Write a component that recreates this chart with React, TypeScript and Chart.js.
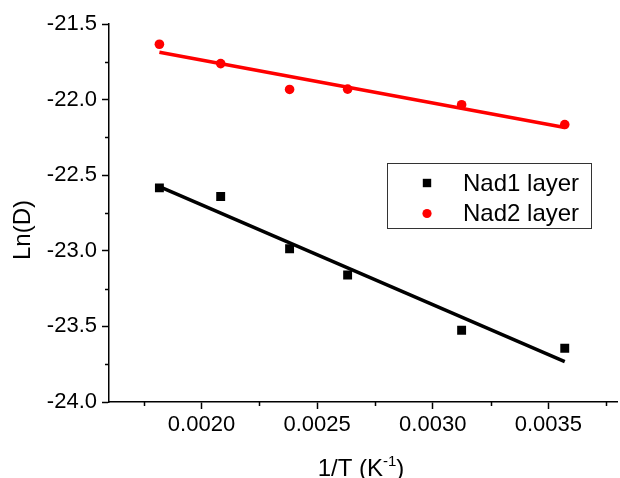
import React, { useEffect, useRef } from "react";
import { Chart, registerables } from "chart.js";

Chart.register(...registerables);

// Data
const invT = [0.001818, 0.002083, 0.002381, 0.002632, 0.003125, 0.003571];
const nad1 = [-22.584, -22.641, -22.986, -23.16, -23.525, -23.645];
const nad2 = [-21.634, -21.762, -21.933, -21.931, -22.034, -22.165];
const fitX = [0.001818, 0.003571];
const nad1Fit = [-22.576, -23.733];
const nad2Fit = [-21.687, -22.185];
const xTicks = [0.002, 0.0025, 0.003, 0.0035];
const xMinor = [0.00175, 0.00225, 0.00275, 0.00325, 0.00375];
const yTicks = [-21.5, -22.0, -22.5, -23.0, -23.5, -24.0];
const yMinor = [-21.75, -22.25, -22.75, -23.25, -23.75];
const seriesNames = ["Nad1 layer", "Nad2 layer"];
const xTitleMain = "1/T (K";
const xTitleSup = "-1";
const xTitleEnd = ")";
const yTitle = "Ln(D)";

const FONT = '"Liberation Sans", Arial, sans-serif';

const decorPlugin = {
  id: "decor",
  afterDraw(chart: any) {
    const { ctx, chartArea, scales } = chart;
    const xs = scales.x;
    const ys = scales.y;
    ctx.save();
    // minor ticks
    ctx.strokeStyle = "#000";
    ctx.lineWidth = 1.5;
    ctx.beginPath();
    xMinor.forEach((v) => {
      const px = Math.round(xs.getPixelForValue(v)) + 0.5;
      ctx.moveTo(px, chartArea.bottom);
      ctx.lineTo(px, chartArea.bottom + 4);
    });
    yMinor.forEach((v) => {
      const py = Math.round(ys.getPixelForValue(v)) + 0.5;
      ctx.moveTo(chartArea.left - 4, py);
      ctx.lineTo(chartArea.left, py);
    });
    ctx.stroke();

    // axis titles
    ctx.fillStyle = "#000";
    ctx.font = `24px ${FONT}`;
    ctx.textBaseline = "alphabetic";
    ctx.textAlign = "left";
    const supFont = `15px ${FONT}`;
    const w1 = ctx.measureText(xTitleMain).width;
    const w3 = ctx.measureText(xTitleEnd).width;
    ctx.font = supFont;
    const w2 = ctx.measureText(xTitleSup).width;
    const total = w1 + w2 + w3;
    const cx = 361;
    const x0 = cx - total / 2;
    const base = chartArea.bottom + 74;
    ctx.font = `24px ${FONT}`;
    ctx.fillText(xTitleMain, x0, base);
    ctx.font = supFont;
    ctx.fillText(xTitleSup, x0 + w1, base - 10);
    ctx.font = `24px ${FONT}`;
    ctx.fillText(xTitleEnd, x0 + w1 + w2, base);

    ctx.save();
    ctx.translate(23, (chartArea.top + chartArea.bottom) / 2 + 17);
    ctx.rotate(-Math.PI / 2);
    ctx.textAlign = "center";
    ctx.textBaseline = "middle";
    ctx.fillText(yTitle, 0, 0);
    ctx.restore();

    // legend box
    const bx = 387.5, by = 163.5, bw = 204, bh = 65;
    ctx.fillStyle = "#fff";
    ctx.fillRect(bx, by, bw, bh);
    ctx.strokeStyle = "#333";
    ctx.lineWidth = 1;
    ctx.strokeRect(bx, by, bw, bh);
    // entries
    ctx.fillStyle = "#000";
    ctx.fillRect(427 - 4.2, 183 - 4.2, 8.4, 8.4);
    ctx.fillStyle = "#ff0000";
    ctx.beginPath();
    ctx.arc(427, 213.5, 4.6, 0, Math.PI * 2);
    ctx.fill();
    ctx.fillStyle = "#000";
    ctx.font = `24px ${FONT}`;
    ctx.textAlign = "left";
    ctx.textBaseline = "alphabetic";
    ctx.fillText(seriesNames[0], 463, 191);
    ctx.fillText(seriesNames[1], 463, 221);
    ctx.restore();
  },
};

export default function App() {
  const ref = useRef<HTMLCanvasElement | null>(null);
  useEffect(() => {
    if (!ref.current) return;
    const toPts = (xs: number[], ys: number[]) => xs.map((x, i) => ({ x, y: ys[i] }));
    const chart = new Chart(ref.current, {
      type: "scatter",
      data: {
        datasets: [
          {
            label: seriesNames[0],
            data: toPts(invT, nad1),
            pointStyle: "rect",
            pointRadius: 6.3,
            backgroundColor: "#000",
            borderColor: "#000",
            borderWidth: 0,
          },
          {
            label: seriesNames[1],
            data: toPts(invT, nad2),
            pointStyle: "circle",
            pointRadius: 4.8,
            backgroundColor: "#ff0000",
            borderColor: "#ff0000",
            borderWidth: 0,
          },
          {
            label: "fit1",
            data: toPts(fitX, nad1Fit),
            showLine: true,
            pointRadius: 0,
            borderColor: "#000",
            borderWidth: 3.5,
          },
          {
            label: "fit2",
            data: toPts(fitX, nad2Fit),
            showLine: true,
            pointRadius: 0,
            borderColor: "#ff0000",
            borderWidth: 3.5,
          },
        ],
      },
      options: {
        responsive: false,
        animation: false,
        layout: { padding: { left: 0, top: 24, right: 2.5, bottom: 0 } },
        plugins: {
          legend: { display: false },
          tooltip: { enabled: false },
        },
        scales: {
          x: {
            type: "linear",
            min: 0.0016,
            max: 0.0038,
            afterBuildTicks: (s: any) => {
              s.ticks = xTicks.map((v) => ({ value: v }));
            },
            afterFit: (s: any) => {
              s.height = 76;
            },
            grid: {
              drawOnChartArea: false,
              drawTicks: true,
              tickLength: 7,
              tickWidth: 1.5,
              tickColor: "#000",
            },
            border: { display: true, color: "#000", width: 1.5 },
            ticks: {
              color: "#000",
              font: { family: FONT, size: 22 },
              padding: 3,
              maxRotation: 0,
              autoSkip: false,
              callback: (v: any) => Number(v).toFixed(4),
            },
          },
          y: {
            type: "linear",
            min: -24,
            max: -21.5,
            afterBuildTicks: (s: any) => {
              s.ticks = yTicks.map((v) => ({ value: v }));
            },
            afterFit: (s: any) => {
              s.width = 109;
            },
            grid: {
              drawOnChartArea: false,
              drawTicks: true,
              tickLength: 7,
              tickWidth: 1.5,
              tickColor: "#000",
            },
            border: { display: true, color: "#000", width: 1.5 },
            ticks: {
              color: "#000",
              font: { family: FONT, size: 22 },
              padding: 5,
              autoSkip: false,
              callback: (v: any) => Number(v).toFixed(1),
            },
          },
        },
      },
      plugins: [decorPlugin],
    });
    return () => chart.destroy();
  }, []);
  return (
    <div style={{ position: "fixed", left: 0, top: 0, width: 620, height: 478, overflow: "hidden", background: "#fff" }}>
      <canvas ref={ref} width={624} height={478} style={{ display: "block", width: 624, height: 478 }} />
    </div>
  );
}
